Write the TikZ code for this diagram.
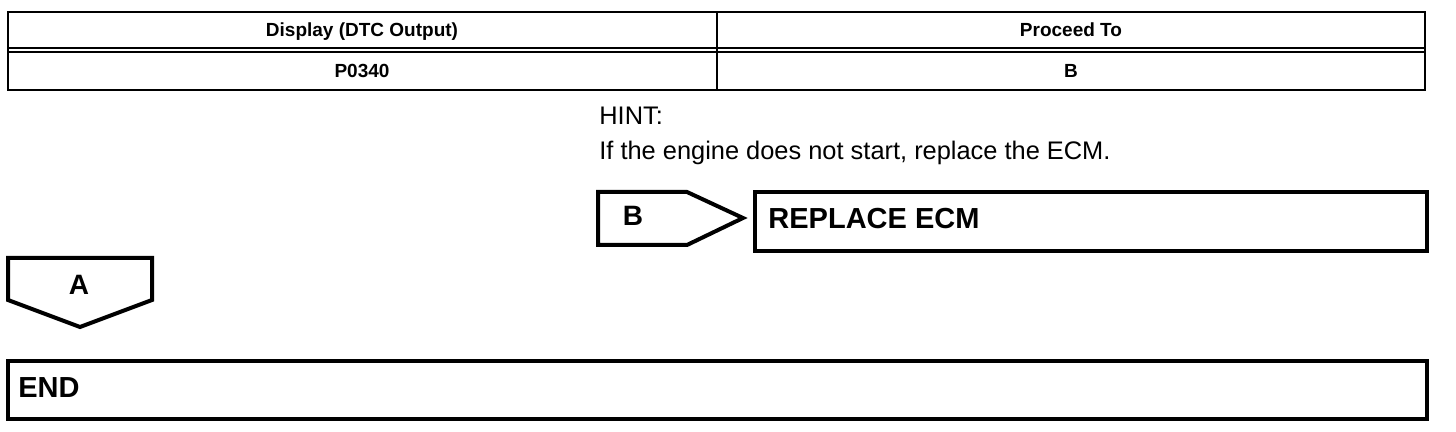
\documentclass[tikz,border=0pt]{standalone}
\usepackage{fontspec}
\setmainfont{Liberation Sans}

\begin{document}
\begin{tikzpicture}[x=0.5pt,y=-0.5pt]
        \useasboundingbox (0,0) rectangle (1456,432);

        % table
        \draw[line width=1pt] (8,12) rectangle (1425,90);
        \draw[line width=1pt] (8,48) -- (1425,48);
        \draw[line width=1pt] (8,52) -- (1425,52);
        \draw[line width=1pt] (717,12) -- (717,90);
        \node[anchor=base, font=\fontsize{9.5}{11}\selectfont\bfseries] (display) at (362,37) {Display (DTC Output)};
        \node[anchor=base, font=\fontsize{9.5}{11}\selectfont\bfseries] (proceed) at (1071,37) {Proceed To};
        \node[anchor=base, font=\fontsize{9.5}{11}\selectfont\bfseries] (code) at (362,78) {P0340};
        \node[anchor=base, font=\fontsize{9.5}{11}\selectfont\bfseries] (goto) at (1071,78) {B};

        % hint
        \node[anchor=base west, inner sep=0pt, font=\fontsize{12.7}{15}\selectfont] (hint) at (599,125) {HINT:};
        \node[anchor=base west, inner sep=0pt, font=\fontsize{12.7}{15}\selectfont] (hinttext) at (599,160) {If the engine does not start, replace the ECM.};

        % B tab and ECM box
        \draw[line width=2pt] (598,192) -- (687,192) -- (743,218) -- (687,245) -- (598,245) -- cycle;
        \node[anchor=base, font=\fontsize{14}{16}\selectfont\bfseries] (tabb) at (633,226) {B};
        \draw[line width=2pt] (755,192) rectangle (1427,251);
        \node[anchor=base west, inner sep=0pt, font=\fontsize{14.5}{17}\selectfont\bfseries] (ecm) at (768,229) {REPLACE ECM};

        % A tab and END box
        \draw[line width=2pt] (8,258) -- (152,258) -- (152,300) -- (80,327) -- (8,300) -- cycle;
        \node[anchor=base, font=\fontsize{14}{16}\selectfont\bfseries] (taba) at (79,295) {A};
        \draw[line width=2pt] (8,361) rectangle (1427,419);
        \node[anchor=base west, inner sep=0pt, font=\fontsize{14.5}{17}\selectfont\bfseries] (finish) at (18,398) {END};

\end{tikzpicture}
\end{document}
